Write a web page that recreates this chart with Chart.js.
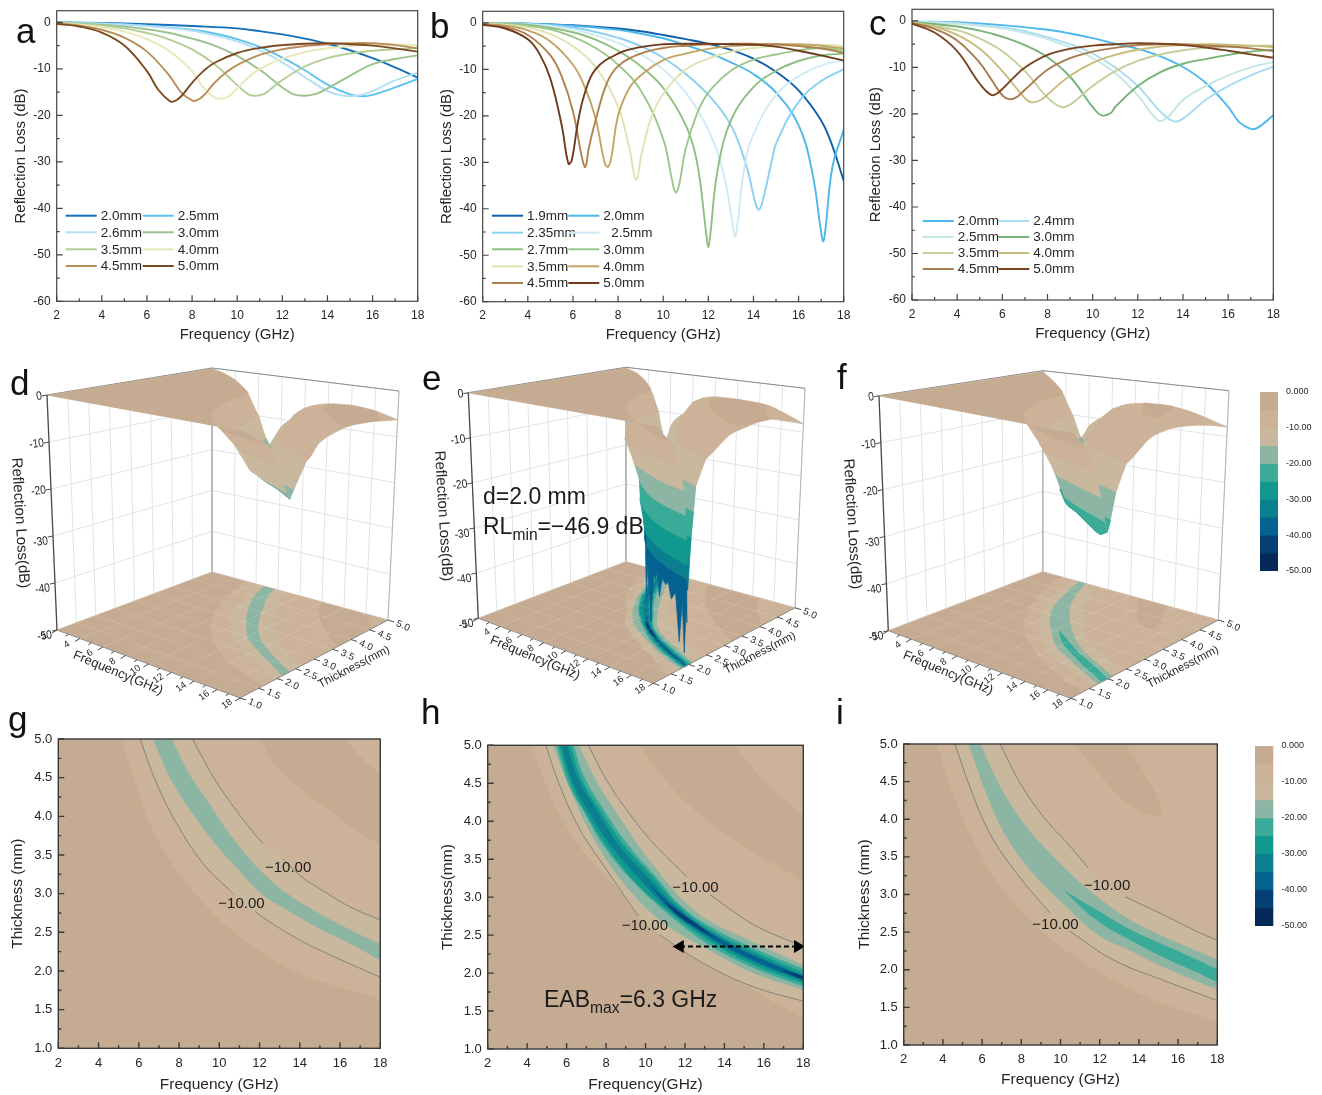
<!DOCTYPE html>
<html>
<head>
<meta charset="utf-8">
<title>Reflection loss</title>
<script src="https://cdn.jsdelivr.net/npm/chart.js@4"></script>
<style>
html,body{margin:0;padding:0;background:#fff}
body{position:relative;width:1322px;height:1095px;overflow:hidden;font-family:"Liberation Sans",Arial,sans-serif;color:#222}
canvas{position:absolute}
.t{position:absolute;white-space:nowrap}
.t sub{font-size:.68em;line-height:0}
</style>
</head>
<body>
<script>
// panel a
const a20 = [[2,-.05],[4,-.15],[6,-.4],[8,-.8],[10,-1.3],[11,-1.9],[12,-2.6],[13,-3.5],[14,-4.6],[15,-6],[16,-7.7],[17,-9.7],[18,-11.9]];
const a25 = [[2,-.05],[4,-.2],[6,-.7],[8,-1.6],[9,-2.4],[10,-3.6],[11,-5.3],[12,-7.6],[13,-10.3],[14,-13.4],[15,-15.5],[15.6,-15.9],[16,-15.6],[17,-14],[18,-12.2]];
const a26 = [[2,-.05],[4,-.3],[6,-.8],[8,-1.8],[9,-2.8],[10,-4.1],[11,-6],[12,-8.6],[13,-11.8],[14,-14.8],[14.5,-15.6],[15,-15.9],[15.5,-15.6],[16,-14.8],[17,-12.5],[18,-10.8]];
const a30 = [[2,-.1],[4,-.5],[6,-1.5],[7,-2.3],[8,-3.5],[9,-5],[10,-7.2],[11,-10.2],[12,-14],[12.5,-15.5],[13,-15.8],[13.5,-15.4],[14,-14.2],[15,-11.5],[16,-9],[17,-7.9],[18,-7.1]];
const a35 = [[2,-.1],[4,-.7],[5,-1.3],[6,-2.3],[7,-3.7],[8,-5.8],[9,-9],[10,-13.5],[10.5,-15.5],[10.8,-15.8],[11.2,-15.4],[11.5,-14.3],[12,-12.4],[13,-9.5],[14,-7.7],[15,-6.7],[16,-6.1],[17,-5.8],[18,-5.5]];
const a40 = [[2,-.2],[3,-.5],[4,-1],[5,-2],[6,-3.6],[7,-6.2],[8,-10.5],[8.5,-14],[9,-16.2],[9.3,-16.4],[9.6,-16],[10,-14.2],[10.5,-11.8],[11,-10],[12,-7.8],[13,-6.4],[14,-5.6],[15,-5.1],[16,-4.8],[17,-4.7],[18,-5]];
const a45 = [[2,-.3],[3,-.7],[4,-1.6],[5,-3.3],[6,-6.3],[7,-11.5],[7.5,-15],[8,-16.8],[8.2,-16.8],[8.5,-15.8],[9,-13],[9.5,-10.8],[10,-9.2],[11,-7],[12,-5.8],[13,-5.1],[14,-4.7],[15,-4.5],[16,-4.5],[17,-4.9],[18,-5.6]];
const a50 = [[2,-.3],[3,-.9],[4,-2.2],[5,-5],[6,-10.5],[6.5,-14.5],[7,-16.9],[7.2,-17],[7.5,-16],[8,-13],[8.5,-10.5],[9,-8.7],[10,-6.6],[11,-5.5],[12,-4.9],[13,-4.6],[14,-4.5],[15,-4.7],[16,-5],[17,-5.6],[18,-6.3]];
const aLabels = ['2.0mm','2.5mm','2.6mm','3.0mm','3.5mm','4.0mm','4.5mm','5.0mm'];
const aColors = ['#1470b8','#5cc2f0','#b5e0f3','#9bc28f','#b4cd95','#e8e8b8','#b88f5a','#7b4a20'];

// panel b
const b19 = [[2,-.05],[4,-.15],[6,-.5],[8,-1.2],[9,-1.8],[10,-2.6],[11,-3.5],[12,-4.5],[13,-5.8],[14,-7.7],[15,-10.5],[16,-14.5],[17,-21],[17.5,-26.5],[18,-34]];
const b20 = [[2,-.05],[4,-.15],[6,-.6],[8,-1.5],[9,-2.3],[10,-3.3],[11,-4.8],[12,-6.4],[13,-8.5],[14,-11],[15,-15],[16,-22],[16.6,-32],[17,-45],[17.1,-47],[17.2,-44],[17.5,-31],[18,-23]];
const b235 = [[2,-.05],[4,-.25],[6,-1],[8,-3.2],[9,-5],[10,-7.5],[11,-11],[12,-15.5],[13,-22],[13.7,-31],[14.1,-39],[14.25,-40.2],[14.4,-38.5],[14.8,-30],[15,-26],[16,-17],[17,-12.5],[18,-10]];
const b25 = [[2,-.05],[4,-.3],[6,-1.4],[8,-4.3],[9,-6.7],[10,-10],[11,-15],[12,-23],[12.7,-33],[13.1,-44],[13.2,-46],[13.3,-43],[13.6,-31],[14,-24],[15,-15.5],[16,-11.5],[17,-9.2],[18,-8]];
const b27 = [[2,-.05],[4,-.4],[6,-2],[7,-3.6],[8,-6],[9,-9.3],[10,-14],[11,-22],[11.5,-30],[11.9,-45],[12,-48.3],[12.1,-45],[12.4,-32],[13,-21],[14,-13.8],[15,-10.3],[16,-8.2],[17,-7],[18,-6.6]];
const b30 = [[2,-.1],[4,-.6],[5,-1.4],[6,-3],[7,-5.4],[8,-9],[9,-14.5],[10,-25],[10.4,-34],[10.55,-36.5],[10.7,-35],[11,-27],[11.5,-19.5],[12,-15],[13,-10.3],[14,-7.9],[15,-6.8],[16,-5.9],[17,-5.4],[18,-5.8]];
const b35 = [[2,-.1],[3,-.4],[4,-1],[5,-2.4],[6,-5],[7,-9.5],[8,-18],[8.5,-27],[8.8,-33.8],[9.05,-28],[9.5,-20],[10,-15.3],[11,-10],[12,-7.7],[13,-6.2],[14,-5.4],[15,-5],[16,-4.8],[17,-4.7],[18,-5]];
const b40 = [[2,-.2],[3,-.6],[4,-1.6],[5,-4],[6,-9],[6.5,-13.5],[7,-20.5],[7.4,-30],[7.55,-31],[7.7,-29],[8,-20],[8.5,-14],[9,-11.3],[10,-8],[11,-6.6],[12,-5.6],[13,-5],[14,-4.7],[15,-4.6],[16,-4.6],[17,-4.9],[18,-5.5]];
const b45 = [[2,-.3],[3,-.9],[4,-2.6],[5,-7],[5.5,-11.5],[6,-19],[6.4,-29],[6.55,-31],[6.7,-27],[7,-21],[7.5,-13],[8,-9.3],[9,-6.6],[10,-5.4],[11,-4.9],[12,-4.6],[13,-4.5],[14,-4.5],[15,-4.6],[16,-5],[17,-5.5],[18,-6.4]];
const b50 = [[2,-.4],[3,-1.2],[4,-3.5],[4.5,-6.5],[5,-12],[5.5,-22],[5.8,-30.3],[5.95,-29.5],[6.2,-22],[6.5,-15.5],[7,-10],[8,-6.6],[9,-5.2],[10,-4.6],[11,-4.5],[12,-4.5],[13,-4.6],[14,-4.7],[15,-5.1],[16,-6],[17,-7],[18,-8.1]];
const bLabels = ['1.9mm','2.0mm','2.35mm','2.5mm','2.7mm','3.0mm','3.5mm','4.0mm','4.5mm','5.0mm'];
const bColors = ['#0f5fa8','#4cb8ea','#8ad0f0','#cfeaf6','#8fbf80','#9cc78c','#e0e4b0','#c4a464','#b0814f','#6f3a1c'];

// panel c
const c20 = [[2,-.1],[4,-.3],[6,-.9],[8,-1.9],[9,-2.7],[10,-3.7],[11,-4.9],[12,-6],[13,-7.6],[14,-9.9],[15,-13.3],[16,-18.5],[16.5,-21.8],[17,-23.2],[17.3,-23],[18,-20.3]];
const c24 = [[2,-.1],[4,-.5],[6,-1.4],[7,-2.2],[8,-3.5],[9,-5],[10,-7],[11,-10],[12,-14],[13,-19.5],[13.6,-21.6],[14,-21],[15,-17],[16,-14],[17,-11.7],[18,-9.8]];
const c25 = [[2,-.1],[4,-.6],[6,-1.6],[7,-2.6],[8,-3.9],[9,-5.7],[10,-8],[11,-11.2],[12,-16],[12.9,-21.4],[13.3,-20.8],[14,-17],[15,-14],[16,-11.7],[17,-10],[18,-8.8]];
const c30 = [[2,-.2],[4,-1.2],[5,-2.1],[6,-3.4],[7,-5.2],[8,-7.8],[9,-12],[10,-18.5],[10.4,-20.3],[10.8,-19.8],[11,-18.5],[12,-14],[13,-11],[14,-9.2],[15,-8.2],[16,-7.3],[17,-6.6],[18,-6.2]];
const c35 = [[2,-.3],[4,-2],[5,-3.8],[6,-6.5],[7,-10.8],[8,-16.5],[8.6,-18.5],[9,-18],[10,-14],[11,-10.8],[12,-8.6],[13,-7.2],[14,-6.3],[15,-5.8],[16,-5.5],[17,-5.4],[18,-5.3]];
const c40 = [[2,-.4],[3,-1.2],[4,-3],[5,-6],[6,-10.8],[7,-16.6],[7.3,-17.5],[7.7,-17],[8,-15.8],[9,-11.8],[10,-9],[11,-7.3],[12,-6.2],[13,-5.5],[14,-5.2],[15,-5],[16,-5.1],[17,-5.3],[18,-5.6]];
const c45 = [[2,-.5],[3,-1.7],[4,-4.2],[5,-9],[5.5,-12.5],[6,-16],[6.3,-16.8],[6.6,-16.5],[7,-14.8],[8,-10.5],[9,-8],[10,-6.6],[11,-5.8],[12,-5.2],[13,-5],[14,-5],[15,-5.3],[16,-5.5],[17,-5.9],[18,-6.5]];
const c50 = [[2,-.6],[3,-2.5],[4,-6.5],[5,-13.5],[5.5,-15.9],[5.8,-15.5],[6.5,-12.2],[7,-10],[8,-7.3],[9,-6],[10,-5.3],[11,-5],[12,-4.8],[13,-4.9],[14,-5.2],[15,-5.7],[16,-6.4],[17,-7.2],[18,-7.9]];
const cLabels = ['2.0mm','2.4mm','2.5mm','3.0mm','3.5mm','4.0mm','4.5mm','5.0mm'];
const cColors = ['#4db8ee','#a9dcf2','#c4e6e4','#76b27a','#c5cf9c','#c9bb7a','#a67c4e','#7a4420'];

// contour boundaries [frequency, thickness], panel g / d
const gLow5 = [[5.1,5],[5.72,4.51],[6.55,3.91],[7.88,3.31],[9.7,2.75],[11.69,2.31],[14,1.97],[16.49,1.75],[18,1.64]];
const gLow10 = [[6.06,5],[6.88,4.43],[7.88,3.91],[9.2,3.39],[10.69,3],[11.77,2.77],[12.35,2.66],[14,2.4],[15.66,2.19],[18,1.92]];
const gLow15 = [[6.72,5],[7.71,4.43],[9.53,3.74],[11,3.3],[12.2,2.98],[13.2,2.82],[14.83,2.57],[16.49,2.36],[18,2.14]];
const gHigh15 = [[7.63,5],[8.37,4.6],[9.37,4.21],[10.36,3.82],[11.69,3.39],[12.35,3.22],[13.18,3.03],[14.83,2.76],[16.49,2.53],[18,2.34]];
const gHigh10 = [[8.67,5],[9.7,4.51],[10.69,4.13],[11.85,3.74],[12.18,3.65],[13.18,3.44],[14.17,3.2],[14.83,3.09],[16.49,2.83],[18,2.66]];
const gHigh5 = [[12.02,5],[12.84,4.64],[14,4.36],[15.66,4.04],[16.98,3.78],[18,3.64]];
const gHigh2 = [[16.24,5],[17.1,4.75],[18,4.56]];
const gTrough = [[7.18,5,-17],[8.1,4.5,-16.8],[9.85,3.8,-16.4],[11.3,3.4,-16],[12.8,3,-15.8],[14.4,2.73,-15.9],[16.1,2.5,-16],[18,2.24,-16.5]];
const dFarEdge = [[18,3,-7],[18,3.5,-5.5],[18,4,-5],[18,4.5,-5.6],[18,5,-6.3],[18,5,-6.3],[17,5,-5.6],[16,5,-5],[15,5,-4.7],[14,5,-4.5],[13,5,-4.6],[12,5,-4.9],[11,5,-5.5],[10,5,-6.6],[9,5,-8.7]];
const dNearEdge = [[3,5,-.9],[4,5,-2.2]];
const dEdge18 = [[1,-1.5],[1.3,-2.8],[1.64,-5],[1.8,-7.5],[1.92,-10],[2.03,-12.5],[2.14,-15],[2.24,-16.5],[2.34,-15],[2.48,-12.5],[2.66,-10]];

// panel h / e
const hLow5 = [[4.23,5],[4.99,4.46],[6,3.93],[7.35,3.45],[9.04,3.01],[10.73,2.61],[12.93,2.18],[15.46,1.78],[18,1.41]];
const hLow10 = [[4.94,5],[5.67,4.46],[6.68,3.89],[8.03,3.36],[9.64,2.75],[10.73,2.5],[12.93,2.13],[15.46,1.82],[18,1.63]];
const hLow15 = [[5.32,5],[6.17,4.44],[6.84,4.04],[7.77,3.6],[8.7,3.25],[9.88,2.9],[11.1,2.63],[13.26,2.3],[15.5,2],[18,1.78]];
const hLow20 = [[5.49,5],[6.15,4.46],[6.95,4.1],[7.85,3.69],[9.4,3.2],[11.3,2.75],[13.26,2.37],[15.5,2.07],[18,1.83]];
const hLow25 = [[5.61,5],[6.28,4.46],[7.1,4.06],[7.99,3.69],[9.5,3.2],[11.3,2.79],[13.26,2.42],[15.5,2.11],[18,1.87]];
const hLow30 = [[5.75,5],[6.35,4.5],[7.25,4.08],[8.23,3.69],[9.68,3.25],[11.3,2.82],[13.26,2.46],[15.5,2.15],[18,1.9]];
const hHigh30 = [[6,5],[6.56,4.56],[7.55,4.13],[8.61,3.69],[10.1,3.26],[11.5,2.88],[13.26,2.54],[15.5,2.24],[18,1.96]];
const hHigh25 = [[6.17,5],[6.72,4.56],[7.72,4.13],[8.87,3.69],[10.3,3.28],[11.6,2.9],[13.26,2.57],[15.5,2.28],[18,2]];
const hHigh20 = [[6.33,5],[6.85,4.6],[7.92,4.13],[9.09,3.69],[10.5,3.27],[11.8,2.88],[13.26,2.61],[15.5,2.32],[18,2.05]];
const hHigh15 = [[6.59,5],[7.69,4.44],[8.7,4.04],[9.6,3.69],[10.9,3.25],[12,2.93],[13.26,2.68],[15.5,2.4],[18,2.1]];
const hHigh10 = [[7.1,5],[8.03,4.54],[9.04,4.15],[10.4,3.71],[12.08,3.27],[13.27,3.03],[15.46,2.64],[17.15,2.44],[18,2.36]];
const hHigh5 = [[9.72,5],[10.73,4.63],[12.08,4.24],[13.77,3.89],[15.46,3.58],[17.15,3.34],[18,3.2]];
const hHigh2 = [[14.53,5],[16.14,4.5],[18,4.08]];
const hLow35 = [[10.3,3.14],[11.3,2.84],[13.26,2.48],[15.5,2.17],[18,1.91]];
const hHigh35 = [[10.3,3.14],[11.4,2.88],[13.26,2.53],[15.5,2.22],[18,1.95]];
const hLow40 = [[11,2.93],[11.7,2.75],[12.6,2.6],[13.4,2.48]];
const hHigh40 = [[11,2.93],[11.75,2.79],[12.65,2.63],[13.4,2.48]];
const hSpotLow = [[17,2.03],[17.6,1.96],[18,1.92]];
const hSpotHigh = [[17,2.03],[17.6,1.99],[18,1.95]];
const hTrough = [[5.83,5,-30],[6.42,4.56,-31],[7.38,4.13,-31],[8.41,3.69,-34],[9.88,3.25,-35],[11.06,2.94,-35],[11.74,2.76,-35],[13.26,2.5,-35],[14.93,2.28,-35],[16.63,2.06,-35],[18,1.93,-35]];
const eSpikes = [[8.41,3.69,-35],[9.3,3.4,-37],[10.45,3.1,-46],[11,2.95,-37],[11.75,2.78,-43],[12.1,2.7,-37],[12.5,2.6,-47.5],[12.9,2.55,-37],[13.2,2.5,-37.6],[13.6,2.44,-36],[14,2.38,-40.4],[14.4,2.33,-36],[14.9,2.28,-37],[15.3,2.22,-36],[15.8,2.16,-39],[16.4,2.09,-37],[17,2.03,-46.3],[17.35,1.99,-38],[17.7,1.96,-47.8],[17.85,1.95,-38],[18,1.93,-41.5]];
const eFarEdge = [[18,3,-6.4],[18,3.5,-5.5],[18,4,-5],[18,4.5,-6.4],[18,5,-8.1],[18,5,-8.1],[17,5,-7],[16,5,-6],[15,5,-5.1],[14,5,-4.7],[13,5,-4.6],[12,5,-4.5],[11,5,-4.5],[10,5,-4.6],[9,5,-5.2],[8,5,-6.6]];
const eNearEdge = [[3,5,-1.2],[3.7,5,-2.8]];
const eEdge18 = [[1,-1.2],[1.41,-5],[1.52,-7.5],[1.63,-10],[1.7,-12.5],[1.78,-15],[1.83,-20],[1.87,-25],[1.9,-30],[1.93,-35],[1.96,-30],[2,-25],[2.05,-20],[2.1,-15],[2.22,-12.5],[2.36,-10]];

// panel i / f
const iLow5 = [[3.72,5],[4.53,4.34],[5.55,3.72],[7.09,3.06],[8.79,2.57],[10.49,2.22],[12.7,1.86],[15.25,1.55],[18,1.32]];
const iLow10 = [[4.62,5],[5.38,4.43],[6.4,3.81],[7.77,3.28],[9.47,2.75],[10.49,2.51],[12.7,2.13],[15.25,1.86],[18,1.59]];
const iLow15 = [[5.33,5],[6.23,4.34],[7.25,3.77],[8.62,3.28],[10.15,2.88],[11.85,2.48],[13.55,2.26],[15.25,2.04],[18,1.74]];
const iHigh15 = [[5.9,5],[6.92,4.43],[8.1,3.95],[9.3,3.59],[10.49,3.28],[11.85,2.97],[13.55,2.66],[15.25,2.44],[18,2.13]];
const iHigh10 = [[6.92,5],[7.94,4.48],[9.13,4.03],[10.49,3.64],[11.42,3.35],[13.29,2.97],[15.25,2.73],[16.95,2.51],[18,2.39]];
const iLow20 = [[10.23,3.04],[11.85,2.66],[13.55,2.4],[15.25,2.17],[16.95,1.97],[18,1.84]];
const iHigh20 = [[10.23,3.04],[11.85,2.79],[13.55,2.53],[15.25,2.33],[16.95,2.13],[18,2]];
const iBlob = [[10.74,5],[11.85,4.65],[13.04,4.3],[14.23,4.1],[15.13,4.08],[14.82,4.34],[14.14,4.65],[13.29,5]];
const iTrough = [[5.62,5,-15.9],[6.58,4.38,-16.8],[8.9,3.45,-18.5],[10.3,3.05,-20],[11.85,2.72,-21.4],[13.55,2.46,-21.6],[15.25,2.25,-22.5],[16.95,2.05,-23.2],[18,1.92,-22]];
const fFarEdge = [[18,3,-6.2],[18,3.5,-5.3],[18,4,-5.6],[18,4.5,-6.5],[18,5,-7.9],[18,5,-7.9],[17,5,-7.2],[16,5,-6.4],[15,5,-5.7],[14,5,-5.2],[13,5,-4.9],[12,5,-4.8],[11,5,-5],[10,5,-5.3],[9,5,-6],[8,5,-7.3]];
const fNearEdge = [[3,5,-2.5]];
const fEdge18 = [[1,-1.8],[1.32,-5],[1.45,-7.5],[1.59,-10],[1.66,-12.5],[1.74,-15],[1.84,-20],[1.92,-22],[2,-20],[2.13,-15],[2.25,-12.5],[2.39,-10]];

// axes and colour scale
const freqTicks = [2,4,6,8,10,12,14,16,18];
const freqMinor = [3,5,7,9,11,13,15,17];
const thickTicks = [1,1.5,2,2.5,3,3.5,4,4.5,5];
const zTicks = [0,-10,-20,-30,-40,-50];
const barEdges = [0,-5,-10,-15,-20,-25,-30,-35,-40,-45,-50];
const levelColors = ['#c5ab91','#ccb298','#c9b89e','#8cb6a3','#3aab98','#12998f','#0b7e8f','#046290','#033f72','#052a5a'];

const FONT = '"Liberation Sans", Arial, sans-serif';
const INK = '#262626';
Chart.defaults.font.family = FONT;
Chart.defaults.animation = false;
Chart.defaults.responsive = false;
Chart.defaults.devicePixelRatio = 1;

function addCanvas(x, y, w, h) {
    const c = document.createElement('canvas');
    c.width = w; c.height = h;
    c.style.left = x + 'px'; c.style.top = y + 'px';
    c.style.width = w + 'px'; c.style.height = h + 'px';
    document.body.appendChild(c);
    return c;
}

function addText(html, x, y, size, extra) {
    const d = document.createElement('div');
    d.className = 't';
    d.innerHTML = html;
    d.style.cssText = `left:${x}px;top:${y}px;font-size:${size}px;line-height:1;` + (extra || '');
    document.body.appendChild(d);
}

// letters are placed by their baseline
function addLetter(s, x, base) {
    addText(s, x, base - 35 * 0.8465, 35, 'color:#111');
}

const framePlugin = {
    id: 'frame',
    afterDraw(chart, args, o) {
        const {ctx, chartArea: a, scales: {x, y}} = chart;
        ctx.save();
        ctx.strokeStyle = o.color;
        ctx.lineWidth = o.width;
        ctx.beginPath();
        x.ticks.forEach(t => {
            const px = x.getPixelForValue(t.value);
            ctx.moveTo(px, a.bottom); ctx.lineTo(px, a.bottom - 6);
            const mid = x.getPixelForValue(t.value + o.xStep / 2);
            if (t.value + o.xStep / 2 < x.max) { ctx.moveTo(mid, a.bottom); ctx.lineTo(mid, a.bottom - 3); }
        });
        y.ticks.forEach(t => {
            const py = y.getPixelForValue(t.value);
            ctx.moveTo(a.left, py); ctx.lineTo(a.left + 6, py);
            const v = t.value + o.yStep / 2;
            if (v < y.max) { ctx.moveTo(a.left, y.getPixelForValue(v)); ctx.lineTo(a.left + 3, y.getPixelForValue(v)); }
        });
        ctx.stroke();
        ctx.strokeRect(a.left, a.top, a.right - a.left, a.bottom - a.top);
        ctx.restore();
    }
};

// two column legend written from the series labels
const rowLegendPlugin = {
    id: 'rowLegend',
    afterDraw(chart, args, o) {
        if (!o.rows) return;
        const ctx = chart.ctx;
        ctx.save();
        ctx.font = `13.5px ${FONT}`;
        ctx.textBaseline = 'middle';
        chart.data.datasets.forEach((ds, i) => {
            const col = i % 2, row = Math.floor(i / 2);
            const y = o.rows[row] - o.top, x = o.cols[col] - o.left;
            ctx.strokeStyle = ds.borderColor;
            ctx.lineWidth = 2;
            ctx.beginPath(); ctx.moveTo(x, y); ctx.lineTo(x + 31, y); ctx.stroke();
            ctx.fillStyle = INK;
            ctx.fillText(ds.label, x + 35 + (o.shift && o.shift[i] || 0), y + .5);
        });
        ctx.restore();
    }
};

function pairs(list) { return list.map(p => ({x: p[0], y: p[1]})); }

function axisOptions(min, max, step, title, size, tickSize, pad, fmt) {
    return {
        type: 'linear', min, max,
        grid: {display: false, drawTicks: false}, border: {display: false},
        ticks: {stepSize: step, includeBounds: false, color: INK, padding: pad, maxRotation: 0, autoSkip: false,
            font: {size: tickSize}, callback: fmt},
        title: {display: true, text: title, color: INK, padding: 0, font: {size}}
    };
}

function frameChart(box, canvasBox, datasets, o) {
    const [l, t, r, b] = box, [cx, cy, cw, ch] = canvasBox;
    const xAxis = axisOptions(2, 18, 2, o.xTitle, o.titleSize, o.tickSize, 7, v => v);
    const yAxis = axisOptions(o.yMin, o.yMax, o.yStep, o.yTitle, o.titleSize, o.tickSize, 6, o.yFmt);
    xAxis.afterFit = s => { s.height = ch - (t - cy) - (b - t); };
    yAxis.afterFit = s => { s.width = l - cx; };
    return new Chart(addCanvas(cx, cy, cw, ch), {
        type: 'scatter',
        data: {datasets},
        options: {
            layout: {padding: {top: t - cy, right: cx + cw - r, left: 0, bottom: 0}},
            scales: {x: xAxis, y: yAxis},
            plugins: {
                legend: {display: false}, tooltip: {enabled: false},
                frame: {color: o.frameColor, width: o.frameWidth, xStep: 2, yStep: o.yStep},
                rowLegend: o.legend ? Object.assign({left: cx, top: cy}, o.legend) : {}
            }
        },
        plugins: [framePlugin, rowLegendPlugin]
    });
}

function lineChart(box, canvasBox, series, labels, colors, legend) {
    const sets = series.map((s, i) => ({
        label: labels[i], data: pairs(s), borderColor: colors[i], borderWidth: 1.9,
        showLine: true, pointRadius: 0, tension: .4, order: series.length - i
    }));
    return frameChart(box, canvasBox, sets, {
        xTitle: 'Frequency (GHz)', yTitle: 'Reflection Loss (dB)', titleSize: 15, tickSize: 12,
        yMin: -60, yMax: 2.5, yStep: 10, frameColor: '#444', frameWidth: 1.2, legend
    });
}

// keeps a polygon's corners sharp while the sides stay curved
function ring(a, b) {
    const ra = b.slice().reverse();
    return [a[0], ...a, a[a.length - 1], ra[0], ...ra, ra[ra.length - 1]];
}

function polyDs(points, color, tension) {
    return {data: points, showLine: true, fill: 'shape', backgroundColor: color, borderColor: color,
        borderWidth: .7, pointRadius: 0, tension: tension === undefined ? .4 : tension};
}

function lineDs(points, color, width, extra) {
    return Object.assign({data: points, showLine: true, fill: false, borderColor: color, borderWidth: width,
        pointRadius: 0, tension: .4}, extra);
}

// contour line with a break where the text label sits
function brokenLine(curve, breakAt) {
    const out = [];
    curve.forEach(p => {
        out.push({x: p[0], y: p[1]});
        if (p[0] === breakAt) out.push({x: NaN, y: NaN});
    });
    return out;
}

function inOrder(sets) {
    sets.forEach((d, i) => { d.order = sets.length - i; });
    return sets;
}

function contourChart(box, canvasBox, layers, lines, o, extra) {
    const sets = [polyDs(pairs([[2,1],[2,5],[18,5],[18,1]]), levelColors[0], 0)];
    layers.forEach(l => {
        sets.push(polyDs(pairs(l.closed ? l.closed : ring(l.a, l.b)), levelColors[l.c], .4));
    });
    lines.forEach(l => sets.push(lineDs(brokenLine(l[0], l[1]), '#85827a', 1)));
    (extra || []).forEach(e => sets.push(e));
    return frameChart(box, canvasBox, inOrder(sets), Object.assign({
        xTitle: 'Frequency (GHz)', titleSize: 15.5, tickSize: 13,
        yMin: 1, yMax: 5, yStep: .5, yFmt: v => v.toFixed(1), frameColor: '#3a3a3a', frameWidth: 1.4
    }, o));
}

// panels a, b, c
lineChart([56.7, 10.7, 417.7, 301.3], [12, -8, 420, 352],
    [a20, a25, a26, a30, a35, a40, a45, a50], aLabels, aColors,
    {rows: [215.7, 232.3, 249.3, 266], cols: [65.7, 142.7]});
lineChart([482.7, 11.3, 843.7, 301.7], [438, -8, 420, 352],
    [b19, b20, b235, b25, b27, b30, b35, b40, b45, b50], bLabels, bColors,
    {rows: [215.7, 232.7, 249.3, 266.3, 283], cols: [492, 568.3], shift: {3: 8}});
lineChart([912, 9.3, 1273.7, 300], [867, -8, 420, 351],
    [c20, c24, c25, c30, c35, c40, c45, c50], cLabels, cColors,
    {rows: [221, 237, 253, 269], cols: [922.7, 998.3]});

// panels g, h, i
contourChart([58.3, 739, 380.3, 1048.3], [8, 720, 395, 374], [
    {a: gLow5, b: gHigh5, c: 1}, {closed: ring(gHigh2, [[18,5],[18,5.2]]), c: 1},
    {a: gLow10, b: gHigh10, c: 2}, {a: gLow15, b: gHigh15, c: 3}
], [[gLow10, 10.69], [gHigh10, 12.18]], {yTitle: 'Thickness (mm)'});

const ebArrow = lineDs(pairs([[11.75,2.35],[17.72,2.35]]), '#000', 2, {
    tension: 0, borderDash: [5, 3], pointRadius: 5.5, pointStyle: 'triangle',
    pointBackgroundColor: '#000', pointBorderColor: '#000', pointRotation: [-90, 90]
});
contourChart([487.7, 745.3, 803.3, 1049], [438, 728, 380, 366], [
    {a: hLow5, b: hHigh5, c: 1}, {closed: ring(hHigh2, [[18,5],[18,5.2]]), c: 1},
    {a: hLow10, b: hHigh10, c: 2}, {a: hLow15, b: hHigh15, c: 3},
    {a: hLow20, b: hHigh20, c: 4}, {a: hLow25, b: hHigh25, c: 5},
    {a: hLow30, b: hHigh30, c: 6}, {a: hLow35, b: hHigh35, c: 7},
    {a: hLow40, b: hHigh40, c: 8}, {a: hSpotLow, b: hSpotHigh, c: 8}
], [[hLow10, 9.64], [hHigh10, 12.08]], {yTitle: 'Thickness(mm)', xTitle: 'Frequency(GHz)'}, [ebArrow]);

contourChart([903.7, 744, 1217.3, 1045], [855, 726, 380, 363], [
    {a: iLow5, b: [[18,5.2],[18,5]], c: 1}, {closed: iBlob, c: 0},
    {a: iLow10, b: iHigh10, c: 2}, {a: iLow15, b: iHigh15, c: 3}, {a: iLow20, b: iHigh20, c: 4}
], [[iLow10, 9.47], [iHigh10, 11.42]], {yTitle: 'Thickness (mm)'});

// 3D panels: every mark goes through project() onto page-pixel axes
function makeProjector(c) {
    const mix = (k, u, v) => c.A[k] * (1 - u) * (1 - v) + c.B[k] * u * (1 - v) + c.C[k] * u * v + c.D[k] * (1 - u) * v;
    return (f, t, z) => {
        const u = (f - 2) / 16, v = (t - 1) / 4, s = (z + 50) / 50;
        return {
            x: mix(0, u, v) + (mix(2, u, v) - mix(0, u, v)) * s,
            y: mix(1, u, v) + (mix(3, u, v) - mix(1, u, v)) * s
        };
    };
}

const text3dPlugin = {
    id: 'text3d',
    afterDraw(chart, args, o) {
        const ctx = chart.ctx, sx = chart.scales.x, sy = chart.scales.y;
        const put = (s, x, y, size, angle, align, scaleX) => {
            ctx.save();
            ctx.translate(sx.getPixelForValue(x), sy.getPixelForValue(y));
            ctx.rotate(angle);
            ctx.scale(scaleX || 1, 1);
            ctx.font = `${size}px ${FONT}`;
            ctx.fillStyle = INK;
            ctx.textAlign = align || 'center';
            ctx.textBaseline = 'middle';
            ctx.fillText(s, 0, 0);
            ctx.restore();
        };
        const p = o.project;
        zTicks.forEach(z => {
            const q = p(2, 1, z);
            put(String(z), q.x - 5, q.y + 1 + (z + 50 < 25 ? 4 : 0), 12, -.14, 'right', .85);
        });
        freqTicks.forEach(f => {
            const q = p(f, 1, -50);
            put(String(f), q.x - 13, q.y + 6, 9.5, -.62, 'center', 1);
        });
        thickTicks.forEach(t => {
            const q = p(18, t, -50);
            put(t.toFixed(1), q.x + 15, q.y + 6, 9.5, .42, 'center', 1.05);
        });
        put('Reflection Loss(dB)', o.zTitle[0], o.zTitle[1], 15, 1.51);
        put('Frequency(GHz)', o.fTitle[0], o.fTitle[1], 13, .39);
        put('Thickness(mm)', o.tTitle[0], o.tTitle[1], 11.5, -.48);
    }
};

function surfacePanel(c, o) {
    const p = makeProjector(c);
    const lift = (curve, z) => curve.map(q => p(q[0], q[1], q.length > 2 ? q[2] : z));
    const floor = curve => lift(curve, -50);
    const sets = [];
    const grid = '#e3e3e3';
    zTicks.forEach(z => {
        sets.push(lineDs([p(2, 1, z), p(2, 5, z), p(18, 5, z)], grid, 1, {tension: 0}));
    });
    freqTicks.forEach(f => sets.push(lineDs([p(f, 5, 0), p(f, 5, -50)], grid, 1, {tension: 0})));
    thickTicks.forEach(t => sets.push(lineDs([p(2, t, 0), p(2, t, -50)], grid, 1, {tension: 0})));
    sets.push(lineDs([p(2, 5, 0), p(2, 5, -50)], '#b5b5b5', 1, {tension: 0}));
    sets.push(lineDs([p(18, 5, 0), p(18, 5, -50)], '#b5b5b5', 1, {tension: 0}));
    sets.push(lineDs([p(2, 1, 0), p(2, 5, 0), p(18, 5, 0)], '#8a8a8a', 1, {tension: 0}));
    // floor map
    sets.push(polyDs([p(2, 1, -50), p(2, 5, -50), p(18, 5, -50), p(18, 1, -50)], levelColors[0], 0));
    o.floor.forEach(l => {
        const pts = l.closed ? l.closed.map(q => p(q[0], q[1], -50)) : ring(floor(l.a), floor(l.b));
        sets.push(polyDs(pts, levelColors[l.c]));
    });
    freqTicks.forEach(f => sets.push(lineDs([p(f, 1, -50), p(f, 5, -50)], 'rgba(255,255,255,.12)', 1, {tension: 0})));
    thickTicks.forEach(t => sets.push(lineDs([p(2, t, -50), p(18, t, -50)], 'rgba(255,255,255,.12)', 1, {tension: 0})));

    // one band of the surface: side strips between the two boundary curves, then
    // the outline itself running along the t=5 and f=18 edge profiles
    const addBand = b => {
        const A = b.a.map(q => [q[0], q[1], q.length > 2 ? q[2] : b.za]);
        const B = b.b.map(q => [q[0], q[1], q.length > 2 ? q[2] : b.zb]);
        const n = Math.max(A.length, B.length) - 1;
        const at = (list, i) => list[Math.round(i * (list.length - 1) / n)];
        for (let i = 0; i < n; i++) {
            const quad = [at(A, i), at(A, i + 1), at(B, i + 1), at(B, i)];
            sets.push(polyDs(quad.map(q => p(q[0], q[1], q[2])), levelColors[b.c], 0));
        }
        const aEnd = A[A.length - 1], bEnd = B[B.length - 1];
        let side18 = [], side5 = [];
        if (aEnd[0] === 18 && bEnd[0] === 18) {
            const lo = Math.min(aEnd[1], bEnd[1]), hi = Math.max(aEnd[1], bEnd[1]);
            side18 = o.edge18.filter(e => e[0] > lo && e[0] < hi).map(e => [18, e[0], e[1]]);
            if (aEnd[1] > bEnd[1]) side18.reverse();
        }
        if (A[0][1] === 5 && B[0][1] === 5) {
            const lo = Math.min(A[0][0], B[0][0]), hi = Math.max(A[0][0], B[0][0]);
            side5 = o.edgeT5.filter(e => e[0] > lo && e[0] < hi).map(e => [e[0], 5, e[1]]);
            if (B[0][0] > A[0][0]) side5.reverse();
        }
        const rb = B.slice().reverse();
        const path = [A[0], ...A, aEnd, ...side18, bEnd, ...rb, B[0], ...side5];
        sets.push(polyDs(path.map(q => p(q[0], q[1], q[2])), levelColors[b.c]));
    };

    // surface, back to front
    o.surface.forEach(b => {
        if (b.raw) sets.push(polyDs(b.raw.map(q => p(q[0], q[1], q[2])), levelColors[b.c], b.tension));
        else addBand(b);
    });
    // axes and their ticks
    sets.push(lineDs([p(2, 1, 0), p(2, 1, -50)], '#4a4a4a', 1.3, {tension: 0}));
    sets.push(lineDs([p(2, 1, -50), p(18, 1, -50), p(18, 5, -50)], '#8f8f8f', 1, {tension: 0}));
    zTicks.forEach(z => {
        const q = p(2, 1, z);
        sets.push(lineDs([q, {x: q.x - 5, y: q.y + 1}], '#4a4a4a', 1, {tension: 0}));
    });
    freqTicks.forEach(f => {
        const q = p(f, 1, -50);
        sets.push(lineDs([q, {x: q.x - 5, y: q.y + 3}], '#4a4a4a', 1, {tension: 0}));
    });
    freqMinor.forEach(f => {
        const q = p(f, 1, -50);
        sets.push(lineDs([q, {x: q.x - 3, y: q.y + 2}], '#4a4a4a', 1, {tension: 0}));
    });
    thickTicks.forEach(t => {
        const q = p(18, t, -50);
        sets.push(lineDs([q, {x: q.x + 6, y: q.y + 2}], '#4a4a4a', 1, {tension: 0}));
    });
    const [cx, cy, cw, ch] = o.box;
    return new Chart(addCanvas(cx, cy, cw, ch), {
        type: 'scatter',
        data: {datasets: inOrder(sets)},
        options: {
            layout: {padding: 0},
            scales: {
                x: {type: 'linear', display: false, min: cx, max: cx + cw},
                y: {type: 'linear', display: false, min: cy, max: cy + ch, reverse: true}
            },
            plugins: {
                legend: {display: false}, tooltip: {enabled: false},
                text3d: {project: p, zTitle: o.zTitle, fTitle: o.fTitle, tTitle: o.tTitle}
            }
        },
        plugins: [text3dPlugin]
    });
}

function farCrest(high10, edge) {
    return high10.map(q => [q[0], q[1], -10]).concat(edge);
}
function plateau(low5, edge, cornerZ) {
    return [[2,1,-.1],[2,1,-.1],[2,5,-.2],[2,5,-.2], ...edge, ...low5.map(q => [q[0], q[1], -5]),
        [18,low5[low5.length - 1][1],-5],[18,1,cornerZ],[18,1,cornerZ]];
}
function withZ(curve, z) { return curve.map(q => [q[0], q[1], z]); }

surfacePanel({A: [57,630,47,395], B: [240,698,243,423], C: [388,620,399,391], D: [212,572,212,368]}, {
    box: [0, 355, 425, 360], zTitle: [20,523], fTitle: [118,673], tTitle: [354,667],
    edgeT5: a50, edge18: dEdge18,
    floor: [{a: gLow5, b: gHigh5, c: 1}, {closed: ring(gHigh2, [[18,5],[18,5]]), c: 1},
        {a: gLow10, b: gHigh10, c: 2}, {a: gLow15, b: gHigh15, c: 3}],
    surface: [
        {raw: farCrest(gHigh10, dFarEdge), c: 1, tension: .3},
        {raw: [...withZ(gHigh5, -5), [18,3.64,-5], [18,4.56,-5.4], [18,4.56,-5.4], ...withZ(gHigh2, -5.2).reverse(), [14,5,-4.5]], c: 0, tension: .2},
        {a: gHigh10, za: -10, b: gHigh15, zb: -15, c: 2},
        {a: gHigh15, za: -15, b: gTrough, c: 3},
        // far wall behind the notch stays beige, as in the reference
        {a: gHigh15.slice(0, 4), za: -15, b: gTrough.slice(0, 3), c: 2},
        {a: gTrough, b: gLow15, zb: -15, c: 3},
        {a: gLow15, za: -15, b: gLow10, zb: -10, c: 2},
        {a: gLow10, za: -10, b: gLow5, zb: -5, c: 1},
        {raw: plateau(gLow5, dNearEdge, -1.5), c: 0, tension: .2}
    ]
});

surfacePanel({A: [478.3,618.3,468.3,392.7], B: [653.3,683.3,656,420], C: [795,607.7,805,388.3], D: [626,561.7,626,367.3]}, {
    box: [425, 355, 410, 350], zTitle: [443,516], fTitle: [535,658], tTitle: [760,653],
    edgeT5: b50, edge18: eEdge18,
    floor: [{a: hLow5, b: hHigh5, c: 1}, {closed: ring(hHigh2, [[18,5],[18,5]]), c: 1},
        {a: hLow10, b: hHigh10, c: 2}, {a: hLow15, b: hHigh15, c: 3}, {a: hLow20, b: hHigh20, c: 4},
        {a: hLow25, b: hHigh25, c: 5}, {a: hLow30, b: hHigh30, c: 6}, {a: hLow35, b: hHigh35, c: 7}, {a: hLow40, b: hHigh40, c: 8}],
    surface: [
        {raw: farCrest(hHigh10, eFarEdge), c: 1, tension: .3},
        {raw: [...withZ(hHigh5, -5), [18,3.2,-5], [18,4.08,-5.2], [18,4.08,-5.2], ...withZ(hHigh2, -5.1).reverse(), [12,5,-4.5]], c: 0, tension: .2},
        {a: hHigh10, za: -10, b: hHigh15, zb: -15, c: 2},
        {a: hHigh15, za: -15, b: hHigh20, zb: -20, c: 3},
        {a: hHigh20, za: -20, b: hHigh25, zb: -25, c: 4},
        {a: hHigh25, za: -25, b: hHigh30, zb: -30, c: 5},
        {a: hHigh30, za: -30, b: hTrough, c: 6},
        {a: hHigh15.slice(0, 4), za: -15, b: hTrough.slice(0, 4), c: 2},
        {a: hTrough, b: hLow30, zb: -30, c: 6},
        {raw: [...eSpikes, ...withZ(hLow30.slice(3), -33).reverse()], c: 7, tension: 0},
        {a: hLow30, za: -30, b: hLow25, zb: -25, c: 5},
        {a: hLow25, za: -25, b: hLow20, zb: -20, c: 4},
        {a: hLow20, za: -20, b: hLow15, zb: -15, c: 3},
        {a: hLow15, za: -15, b: hLow10, zb: -10, c: 2},
        {a: hLow10, za: -10, b: hLow5, zb: -5, c: 1},
        {raw: plateau(hLow5, eNearEdge, -1.2), c: 0, tension: .2}
    ]
});

surfacePanel({A: [888.3,630.7,879,395.7], B: [1070.7,698.3,1073,423], C: [1218.3,620,1229,390.7], D: [1042.7,571.7,1042.7,370.7]}, {
    box: [835, 355, 415, 360], zTitle: [852,524], fTitle: [948,673], tTitle: [1183,667],
    edgeT5: c50, edge18: fEdge18,
    floor: [{a: iLow5, b: [[18,5],[18,5]], c: 1}, {closed: iBlob, c: 0},
        {a: iLow10, b: iHigh10, c: 2}, {a: iLow15, b: iHigh15, c: 3}, {a: iLow20, b: iHigh20, c: 4}],
    surface: [
        {raw: farCrest(iHigh10, fFarEdge), c: 1, tension: .3},
        {raw: withZ(iBlob, -4.8), c: 0},
        {a: iHigh10, za: -10, b: iHigh15, zb: -15, c: 2},
        {a: iHigh15, za: -15, b: iTrough, c: 3},
        {a: iHigh15.slice(0, 4), za: -15, b: iTrough.slice(0, 3), c: 2},
        {a: iHigh20, za: -20, b: iTrough.slice(3), c: 4},
        {a: iTrough, b: iLow15, zb: -15, c: 3},
        {a: iTrough.slice(3), b: iLow20, zb: -20, c: 4},
        {a: iLow15, za: -15, b: iLow10, zb: -10, c: 2},
        {a: iLow10, za: -10, b: iLow5, zb: -5, c: 1},
        {raw: plateau(iLow5, fNearEdge, -1.8), c: 0, tension: .2}
    ]
});

// colour scales
function colorBar(l, t, r, b) {
    const sets = levelColors.map((col, i) => ({
        data: [[barEdges[i], barEdges[i + 1]]], backgroundColor: col, borderWidth: 0,
        barPercentage: 1, categoryPercentage: 1
    }));
    const cw = 70, ch = Math.round(b - t + 32), cy = t - 16;
    new Chart(addCanvas(l, cy, cw, ch), {
        type: 'bar',
        data: {labels: [''], datasets: sets},
        options: {
            layout: {padding: {top: 16, bottom: 16}},
            scales: {
                x: {stacked: true, display: false},
                y: {
                    position: 'right', min: -50, max: 0, grid: {display: false, drawTicks: false}, border: {display: false},
                    ticks: {stepSize: 10, color: INK, font: {size: 9}, padding: 8, crossAlign: 'near',
                        callback: v => v === 0 ? '0.000' : v.toFixed(2)},
                    afterFit: s => { s.width = cw - (r - l); }
                }
            },
            plugins: {legend: {display: false}, tooltip: {enabled: false}}
        }
    });
}
colorBar(1259.7, 391.7, 1277.7, 571);
colorBar(1255.3, 745.7, 1273.7, 925.3);

// panel letters
addLetter('a', 16, 43); addLetter('b', 430, 38); addLetter('c', 869, 35);
addLetter('d', 10, 395); addLetter('e', 422, 390); addLetter('f', 837, 389);
addLetter('g', 8, 731); addLetter('h', 421, 724); addLetter('i', 836, 724);

// annotations
const centered = 'transform:translateY(-50%);color:#1c1c1c;';
addText('−10.00', 265, 865.7, 15, centered);
addText('−10.00', 218.3, 902, 15, centered);
addText('−10.00', 672.3, 885.7, 15, centered);
addText('−10.00', 621.7, 924, 15, centered);
addText('−10.00', 1084, 883.7, 15, centered);
addText('−10.00', 1032.3, 922.7, 15, centered);
addText('d=2.0 mm', 483, 485, 23, 'color:#1c1c1c');
addText('RL<sub>min</sub>=−46.9 dB', 483, 515, 23, 'color:#1c1c1c');
addText('EAB<sub>max</sub>=6.3 GHz', 544, 988, 23, 'color:#1c1c1c');
</script>
</body>
</html>
